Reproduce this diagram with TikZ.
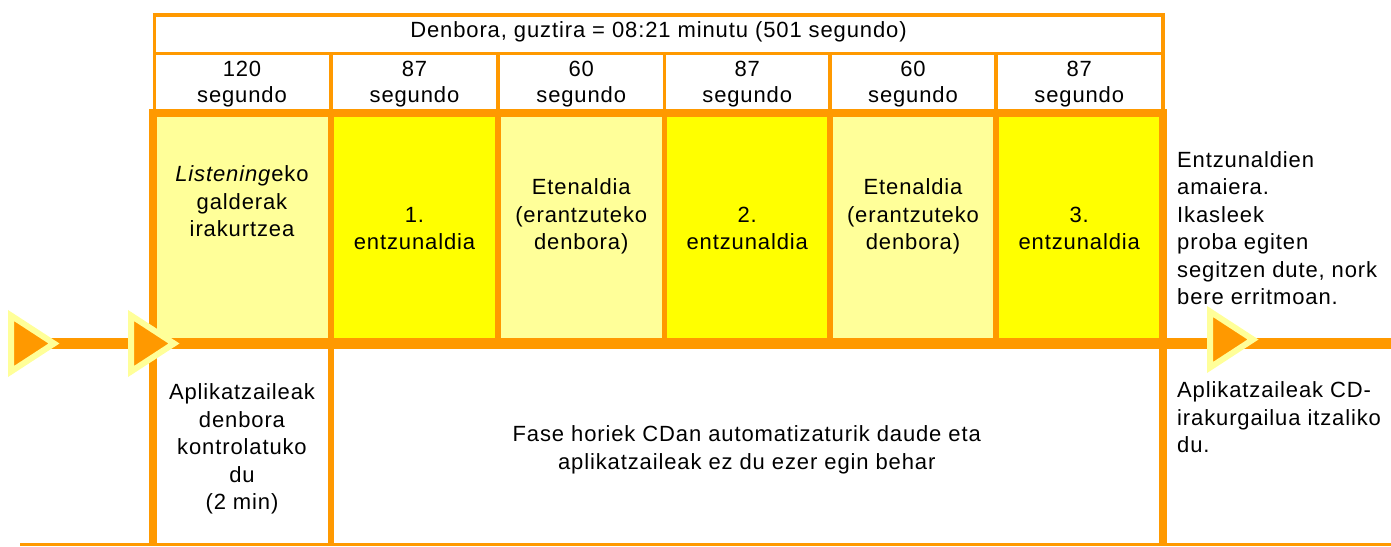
\documentclass[tikz,border=0pt]{standalone}
\usepackage{fontspec}
\setmainfont{Liberation Sans}[LetterSpace=4]
\definecolor{orng}{HTML}{FF9900}
\definecolor{lyel}{HTML}{FFFF99}
\definecolor{yel}{HTML}{FFFF00}
\begin{document}
\begin{tikzpicture}[x=1pt,y=-1pt,
  txt/.style={font=\fontsize{22}{27.5}\selectfont, align=center, inner sep=0pt},
  segtxt/.style={font=\fontsize{22}{26}\selectfont, align=center, inner sep=0pt},
  ltxt/.style={font=\fontsize{22}{27.5}\selectfont, align=left, inner sep=0pt, anchor=west},
  thinln/.style={draw=orng, line width=3.5pt},
  thickln/.style={draw=orng, line width=8pt},
  midln/.style={draw=orng, line width=5.5pt},
  arrowtri/.pic={\filldraw[fill=orng, draw=lyel, line width=6pt, line join=miter] (0,-28) -- (0,28) -- (43,0) -- cycle;}
]
\useasboundingbox (0,0) rectangle (1391,546);
% coloured cells
\fill[lyel] (153,113) rectangle (331,343);
\fill[yel]  (331,113) rectangle (498,343);
\fill[lyel] (498,113) rectangle (664.5,343);
\fill[yel]  (664.5,113) rectangle (830,343);
\fill[lyel] (830,113) rectangle (996,343);
\fill[yel]  (996,113) rectangle (1162.5,343);
% header (thin lines)
\draw[thinln] (152.75,15) -- (1164.75,15);
\draw[thinln] (154.5,13) -- (154.5,113);
\draw[thinln] (1163,13) -- (1163,113);
\draw[thinln] (154.5,53.5) -- (1163,53.5);
\foreach \xx in {331,498,664.5,830,996}{
  \draw[thinln] (\xx,53.5) -- (\xx,113);
}
% thick frame
\draw[thickln] (149,113) -- (1166.5,113);
\draw[thickln] (153,109) -- (153,546);
\draw[thickln] (1162.5,109) -- (1162.5,546);
\foreach \xx in {331,498,664.5,830,996}{
  \draw[midln] (\xx,113) -- (\xx,343);
}
\draw[midln] (331,343) -- (331,546);
% main timeline and bottom line
\draw[draw=orng, line width=11pt] (30,343.5) -- (1391,343.5);
\draw[draw=orng, line width=3pt] (20,544.5) -- (1391,544.5);
% arrows
\pic at (11,343.5) {arrowtri};
\pic at (131,343.5) {arrowtri};
\pic at (1210,339.5) {arrowtri};
% texts
\node[txt] (total) at (658.5,32.3) {Denbora, guztira = 08:21 minutu (501 segundo)};
\node[segtxt] (s1) at (242,84.3) {120\\segundo};
\node[segtxt] (s2) at (414.5,84.3) {87\\segundo};
\node[segtxt] (s3) at (581.25,84.3) {60\\segundo};
\node[segtxt] (s4) at (747.25,84.3) {87\\segundo};
\node[segtxt] (s5) at (913,84.3) {60\\segundo};
\node[segtxt] (s6) at (1079.25,84.3) {87\\segundo};
\node[txt] (p1) at (242,201.5) {\textit{Listening}eko\\galderak\\irakurtzea};
\node[txt] (p2) at (414.5,228.5) {1.\\entzunaldia};
\node[txt] (p3) at (581.25,216.8) {Etenaldia\\(erantzuteko\\denbora)};
\node[txt] (p4) at (747.25,228.5) {2.\\entzunaldia};
\node[txt] (p5) at (913,216.8) {Etenaldia\\(erantzuteko\\denbora)};
\node[txt] (p6) at (1079.25,228.5) {3.\\entzunaldia};
\node[ltxt] (endtxt) at (1177,228.2) {Entzunaldien\\amaiera.\\Ikasleek\\proba egiten\\segitzen dute, nork\\bere erritmoan.};
\node[txt] (ctrl) at (242,448.8) {Aplikatzaileak\\denbora\\kontrolatuko\\du\\(2 min)};
\node[txt] (auto) at (746.75,450) {Fase horiek CDan automatizaturik daude eta\\aplikatzaileak ez du ezer egin behar};
\node[ltxt] (off) at (1177,417.5) {Aplikatzaileak CD-\\irakurgailua itzaliko\\du.};
\end{tikzpicture}
\end{document}
